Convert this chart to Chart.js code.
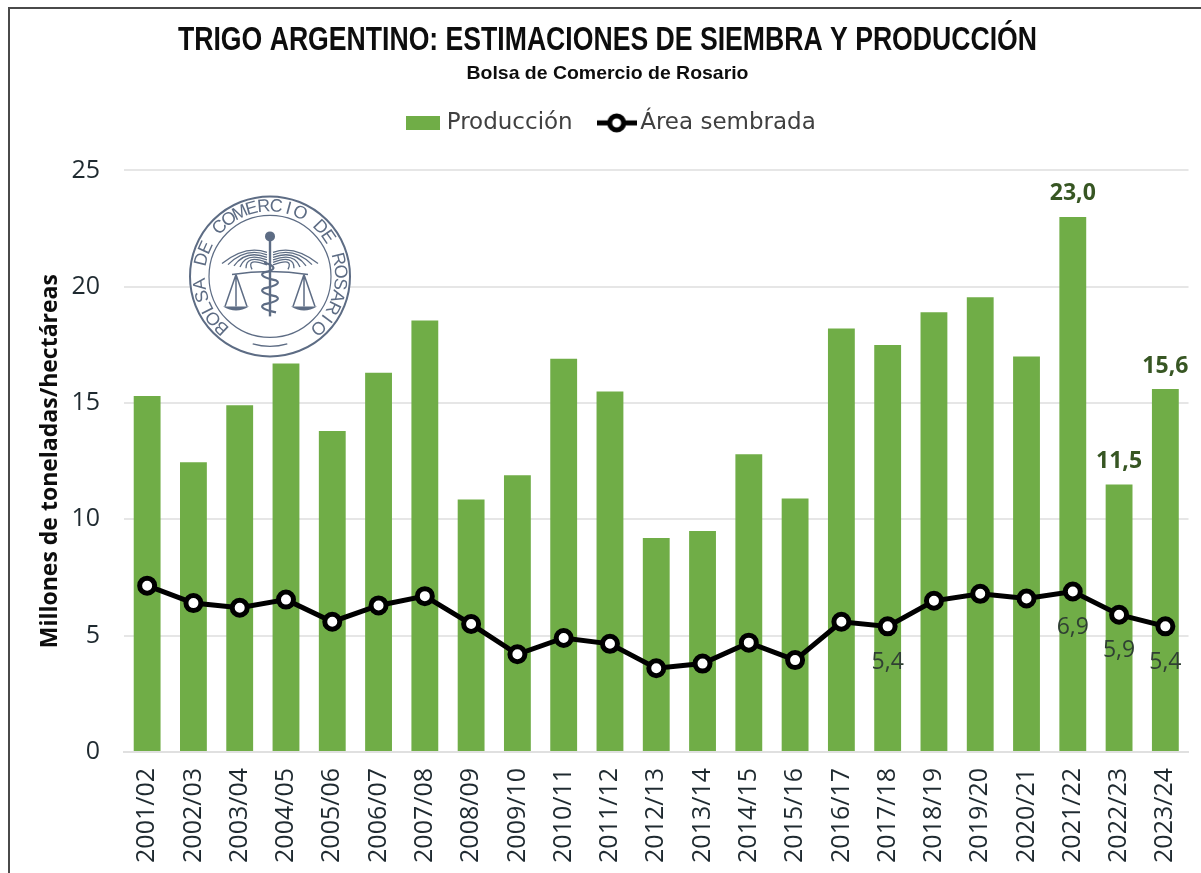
<!DOCTYPE html>
<html><head><meta charset="utf-8">
<style>
html,body{margin:0;padding:0;background:#fff;overflow:hidden}
#frame{position:absolute;left:8px;top:7px;width:1300px;height:1000px;border:2px solid #4a4a4a;box-sizing:border-box}
#wrap{position:absolute;left:14px;top:0;width:1187px;height:873px}
</style>
<script src="https://cdn.jsdelivr.net/npm/chart.js@4"></script>
</head><body>
<div id="frame"></div>
<div id="wrap"><canvas id="c" width="1187" height="873"></canvas></div>
<script>
const categories=["2001/02","2002/03","2003/04","2004/05","2005/06","2006/07","2007/08","2008/09","2009/10","2010/11","2011/12","2012/13","2013/14","2014/15","2015/16","2016/17","2017/18","2018/19","2019/20","2020/21","2021/22","2022/23","2023/24"];
const produccion=[15.3,12.45,14.9,16.7,13.8,16.3,18.55,10.85,11.9,16.9,15.5,9.2,9.5,12.8,10.9,18.2,17.5,18.9,19.55,17.0,23.0,11.5,15.6];
const area=[7.15,6.4,6.2,6.55,5.6,6.3,6.7,5.5,4.2,4.9,4.65,3.6,3.8,4.7,3.95,5.6,5.4,6.5,6.8,6.6,6.9,5.9,5.4];
const produccionLabels={20:"23,0",21:"11,5",22:"15,6"};
const areaLabels={16:"5,4",20:"6,9",21:"5,9",22:"5,4"};
const yTicks=[0,5,10,15,20,25];

const GREEN="#70ad47",INK="#1f2a30",NAVY="#5d6c84";

function icon(w,h,draw){const c=document.createElement('canvas');c.width=w;c.height=h;draw(c.getContext('2d'));return c;}
const iconBar=icon(34,14,g=>{g.fillStyle=GREEN;g.fillRect(0,0,34,14);});
const iconLine=icon(40,22,g=>{g.strokeStyle="#000";g.lineWidth=5;g.beginPath();g.moveTo(0,11);g.lineTo(40,11);g.stroke();g.fillStyle="#fff";g.beginPath();g.arc(20,11,7,0,Math.PI*2);g.fill();g.stroke();});

/* Narrow the heading text and nudge the legend; no narrow font is installed. */
const boxTweaks={id:'boxTweaks',
  beforeLayout(chart){
    const lg=chart.legend;
    if(lg&&!lg.$fitWrapped){const f=lg.fit;lg.fit=function(){f.call(this);this.height+=26;};lg.$fitWrapped=true;}
  },
  beforeDraw(chart){
    const ctx=chart.ctx;
    const lg=chart.legend;
    if(lg&&!lg.$drawWrapped){const d=lg.draw;lg.draw=function(){ctx.save();ctx.translate(12,0);d.call(this);ctx.restore();};lg.$drawWrapped=true;}
    for(const b of chart.boxes){
      if(!b.options||typeof b.options.text!=='string'||b.$drawWrapped)continue;
      const target=b.options.text.length>30?859:282;
      const o=b.options,d=b.draw;
      b.draw=function(){
        ctx.save();ctx.font=`${o.font.weight} ${o.font.size}px ${o.font.family}`;
        const k=target/ctx.measureText(o.text).width;ctx.restore();
        const cx=(this.left+this.right)/2;
        ctx.save();ctx.translate(cx+6,0);ctx.scale(k,1);ctx.translate(-cx,0);d.call(this);ctx.restore();
      };
      b.$drawWrapped=true;
    }
  }
};

const valueLabels={id:'valueLabels',afterDatasetsDraw(chart){
  const {ctx,scales:{x,y}}=chart;ctx.save();ctx.textAlign='center';ctx.textBaseline='middle';
  ctx.font='bold 23px "Open Sans"';ctx.fillStyle='#375623';
  for(const i in produccionLabels)ctx.fillText(produccionLabels[i],x.getPixelForValue(+i),y.getPixelForValue(produccion[i])-23);
  ctx.font='23px "Open Sans"';ctx.fillStyle='#2f3f33';
  for(const i in areaLabels)ctx.fillText(areaLabels[i],x.getPixelForValue(+i),y.getPixelForValue(area[i])+36);
  ctx.restore();
}};

const logo={id:'logo',afterDraw(chart){
  const {ctx,chartArea:a}=chart;
  const cx=a.left+146,cy=a.top+106,R=80;
  ctx.save();ctx.translate(cx,cy);ctx.strokeStyle=NAVY;ctx.fillStyle=NAVY;
  ctx.save();ctx.fillStyle='#fff';ctx.beginPath();ctx.arc(0,0,R,0,7);ctx.fill();ctx.restore();
  ctx.lineWidth=2;ctx.beginPath();ctx.arc(0,0,R,0,7);ctx.stroke();
  ctx.lineWidth=1.2;ctx.beginPath();ctx.arc(0,0,R-19,0,7);ctx.stroke();
  const txt="BOLSA DE COMERCIO DE ROSARIO";ctx.font='18px "Liberation Sans"';ctx.textAlign='center';ctx.textBaseline='middle';
  const start=-Math.PI*0.76,step=(Math.PI*1.52)/(txt.length-1);
  [...txt].forEach((ch,i)=>{ctx.save();ctx.rotate(start+i*step);ctx.translate(0,-(R-10));ctx.fillText(ch,0,0);ctx.restore();});
  ctx.lineWidth=1.2;ctx.beginPath();ctx.arc(0,8,62,Math.PI*0.41,Math.PI*0.59);ctx.stroke();
  // wings
  ctx.lineWidth=1.3;
  for(const s of[-1,1])for(let k=0;k<6;k++){ctx.beginPath();ctx.moveTo(s*3,-24+k*2.5);ctx.quadraticCurveTo(s*24,-32+k*2.5,s*(48-k*6),-13+k*1.2);ctx.stroke();}
  // staff and head
  ctx.lineWidth=2.4;ctx.beginPath();ctx.moveTo(0,-38);ctx.lineTo(0,40);ctx.stroke();
  ctx.beginPath();ctx.arc(0,-40,5,0,7);ctx.fill();
  // snakes
  ctx.lineWidth=2.2;ctx.beginPath();ctx.moveTo(-6,-14);
  for(let k=0;k<6;k++){const s=k%2?-1:1;ctx.quadraticCurveTo(s*13,-8+k*8,-s*6,-4+k*8);}
  ctx.stroke();
  // balance
  ctx.lineWidth=1.5;ctx.beginPath();ctx.moveTo(-38,-2);ctx.quadraticCurveTo(0,-8,38,-2);ctx.stroke();
  for(const s of[-1,1]){const p=s*34;ctx.beginPath();ctx.moveTo(p,-2);ctx.lineTo(p-11,30);ctx.moveTo(p,-2);ctx.lineTo(p+11,30);ctx.moveTo(p,-2);ctx.lineTo(p,30);ctx.stroke();
    ctx.beginPath();ctx.moveTo(p-13,30);ctx.quadraticCurveTo(p,38,p+13,30);ctx.closePath();ctx.fill();}
  ctx.restore();
}};

new Chart(document.getElementById('c'),{
  data:{labels:categories,datasets:[
    {type:'line',label:'Área sembrada',data:area,order:1,borderColor:'#000',borderWidth:5,backgroundColor:'#fff',pointBackgroundColor:'#fff',pointBorderColor:'#000',pointBorderWidth:5,pointRadius:7.5,tension:0},
    {type:'bar',label:'Producción',data:produccion,order:2,backgroundColor:GREEN,barPercentage:0.58,categoryPercentage:1}
  ]},
  options:{responsive:false,animation:false,
    layout:{padding:{left:0,right:12,top:21,bottom:0}},
    plugins:{
      title:{display:true,text:'TRIGO ARGENTINO: ESTIMACIONES DE SIEMBRA Y PRODUCCIÓN',font:{family:'"Liberation Sans"',size:33,weight:'bold'},color:'#0d0d0d',padding:{top:0,bottom:0}},
      subtitle:{display:true,text:'Bolsa de Comercio de Rosario',font:{family:'"Liberation Sans"',size:19,weight:'bold'},color:'#0d0d0d',padding:{top:2,bottom:-6}},
      legend:{display:true,position:'top',labels:{usePointStyle:true,pointStyleWidth:24,boxHeight:20,padding:32,color:'#404040',font:{family:'"DejaVu Sans"',size:23},
        generateLabels(){return [
          {text:'Producción',pointStyle:iconBar,fontColor:'#404040',datasetIndex:1,fillStyle:GREEN,strokeStyle:GREEN,lineWidth:0},
          {text:'Área sembrada',pointStyle:iconLine,fontColor:'#404040',datasetIndex:0,fillStyle:'#fff',strokeStyle:'#000',lineWidth:0}];}}},
      tooltip:{enabled:false}
    },
    scales:{
      x:{grid:{display:false,drawTicks:false},border:{color:'#e0e0e0',width:2},
        ticks:{minRotation:90,maxRotation:90,autoSkip:false,padding:16,color:'#1f2a30',font:{family:'"Open Sans"',size:25}},
        afterFit(s){s.height=121;s.paddingLeft=0;s.paddingRight=0;}},
      y:{min:0,max:25,grid:{color:'#e6e6e6',lineWidth:2,drawTicks:false},border:{display:false},
        afterBuildTicks(s){s.ticks=yTicks.map(v=>({value:v}));},
        ticks:{padding:24,color:INK,font:{family:'"Open Sans"',size:25}},
        title:{display:true,text:'Millones de toneladas/hectáreas',color:'#0d0d0d',font:{family:'"Open Sans"',size:23,weight:'bold'},padding:{top:23,bottom:0}},
        afterFit(s){s.width=110;}}
    }
  },
  plugins:[boxTweaks,logo,valueLabels]
});
</script>
</body></html>
